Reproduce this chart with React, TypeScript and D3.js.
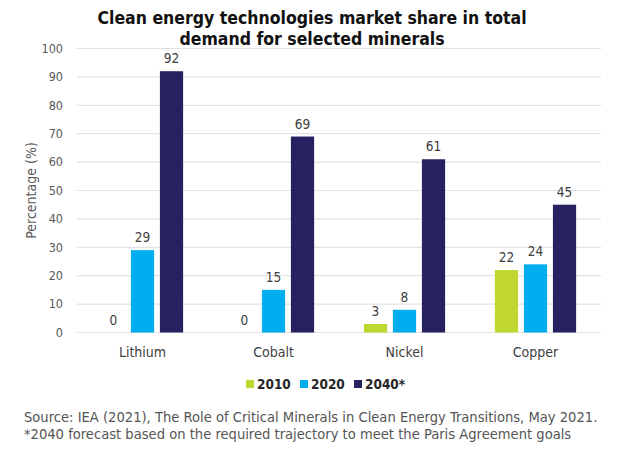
import React from 'react'
import * as d3 from 'd3'

const minerals = ['Lithium', 'Cobalt', 'Nickel', 'Copper']
const seriesNames = ['2010', '2020', '2040*']
const values2010 = [0, 0, 3, 22]
const values2020 = [29, 15, 8, 24]
const values2040 = [92, 69, 61, 45]
const yTicks = [0, 10, 20, 30, 40, 50, 60, 70, 80, 90, 100]
const colors = ['#c0d72f', '#00aeef', '#262262']

const titleLines = ['Clean energy technologies market share in total', 'demand for selected minerals']
const sourceLines = [
  'Source: IEA (2021), The Role of Critical Minerals in Clean Energy Transitions, May 2021.',
  '*2040 forecast based on the required trajectory to meet the Paris Agreement goals',
]

const font = "'DejaVu Sans Condensed', 'Liberation Sans Narrow', sans-serif"

export default () => {
  const W = 624
  const H = 460
  const series = [values2010, values2020, values2040]

  const x0 = d3.scaleBand().domain(minerals).range([77, 601]).paddingInner(0.38).paddingOuter(0.19)
  const x1 = d3.scaleBand().domain(seriesNames).range([0, x0.bandwidth()]).paddingInner(0.2)
  const y = d3.scaleLinear().domain([0, 100]).range([332.5, 48.5])

  return (
    <svg width={W} height={H} style={{ position: 'absolute', left: 0, top: 0, background: '#fff' }} fontFamily={font}>
      {titleLines.map((t, i) => (
        <text key={t} x={312} y={24 + i * 21} textAnchor="middle" fontSize={17.5} fontWeight="bold" fill="#111">
          {t}
        </text>
      ))}

      {yTicks.map((t) => (
        <g key={t}>
          <line x1={77} x2={601} y1={y(t)} y2={y(t)} stroke="#e2e2e2" strokeWidth={1.2} />
          <text x={63} y={y(t)} dy="0.35em" textAnchor="end" fontSize={12.5} fill="#595959">
            {t}
          </text>
        </g>
      ))}

      <text transform={`translate(31,${(y(0) + y(100)) / 2}) rotate(-90)`} textAnchor="middle" fontSize={14} fill="#595959" dy="0.35em">
        Percentage (%)
      </text>

      {minerals.map((m, i) => (
        <g key={m} transform={`translate(${x0(m)},0)`}>
          {series.map((vals, s) => {
            const v = vals[i]
            const bx = x1(seriesNames[s]) as number
            return (
              <g key={s}>
                {v > 0 && <rect x={bx} y={y(v)} width={x1.bandwidth()} height={y(0) - y(v)} fill={colors[s]} />}
                <text x={bx + x1.bandwidth() / 2} y={y(v) - 8} textAnchor="middle" fontSize={13.5} fill="#404040">
                  {v}
                </text>
              </g>
            )
          })}
          <text x={x0.bandwidth() / 2} y={357} textAnchor="middle" fontSize={14} fill="#404040">
            {m}
          </text>
        </g>
      ))}

      {seriesNames.map((s, i) => (
        <g key={s} transform={`translate(${246 + i * 54},380)`}>
          <rect x={0} y={0} width={8} height={8} fill={colors[i]} />
          <text x={11} y={4} dy="0.35em" fontSize={13.5} fontWeight="bold" fill="#262626">
            {s}
          </text>
        </g>
      ))}

      {sourceLines.map((t, i) => (
        <text key={t} x={24} y={422 + i * 17} fontSize={14.6} fill="#555">
          {t}
        </text>
      ))}
    </svg>
  )
}
